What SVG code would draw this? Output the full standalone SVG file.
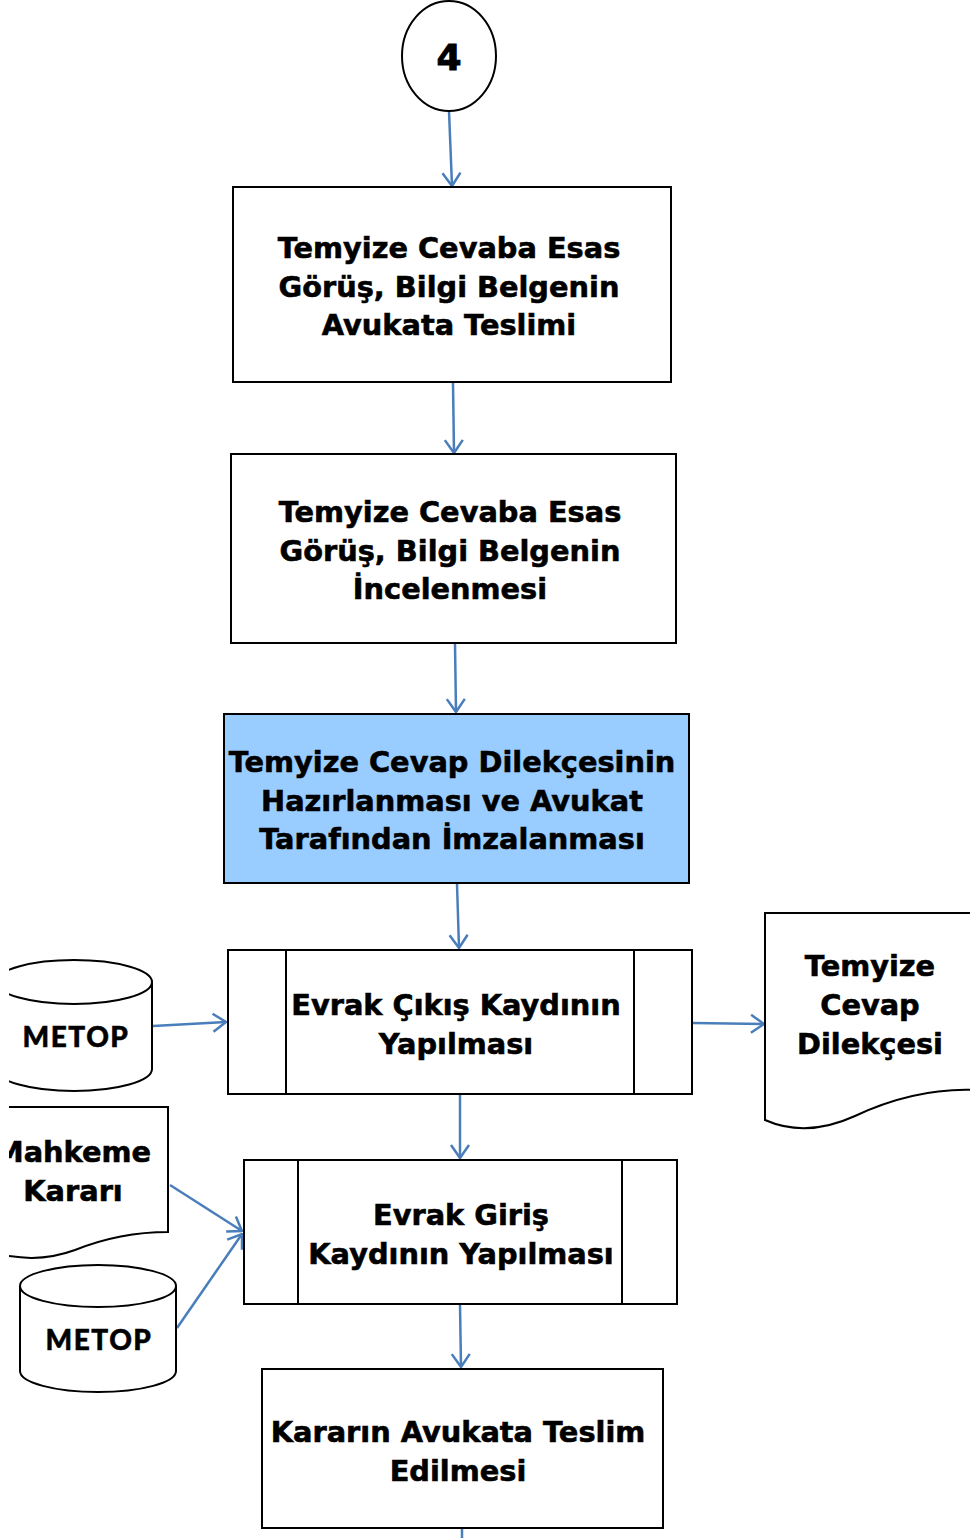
<svg xmlns="http://www.w3.org/2000/svg" width="970" height="1538" viewBox="0 0 970 1538">
<style>
.s{fill:#fff;stroke:#000;stroke-width:2}
.t{font-family:"DejaVu Sans",Verdana,sans-serif;font-weight:bold;font-size:28.8px;fill:#000;stroke:#000;stroke-width:0.6px;text-anchor:middle}
.m{font-family:"Lato","Open Sans",sans-serif;font-weight:900;font-size:28px;fill:#000;stroke:#000;stroke-width:0.5px;text-anchor:middle;letter-spacing:1.5px}
.c{fill:none;stroke:#4A7EBB;stroke-width:2.5;marker-end:url(#a)}
</style>
<defs>
<marker id="a" viewBox="0 0 16 22" refX="15" refY="11" markerWidth="16" markerHeight="22" markerUnits="userSpaceOnUse" orient="auto">
<path d="M2,2 L15,11 L2,20" fill="none" stroke="#4A7EBB" stroke-width="2.5"/>
</marker>
<clipPath id="cl"><rect x="9" y="0" width="970" height="1538"/></clipPath>
</defs>
<rect width="970" height="1538" fill="#fff"/>
<g id="connectors">
<line class="c" x1="449" y1="111" x2="452" y2="186"/>
<line class="c" x1="453" y1="383" x2="454" y2="453"/>
<line class="c" x1="455" y1="644" x2="456" y2="712"/>
<line class="c" x1="457" y1="884" x2="459" y2="948"/>
<line class="c" x1="153" y1="1026" x2="226" y2="1022"/>
<line class="c" x1="693" y1="1023" x2="764" y2="1024"/>
<line class="c" x1="460" y1="1095" x2="460" y2="1158"/>
<line class="c" x1="170" y1="1185" x2="242" y2="1231"/>
<line class="c" x1="177" y1="1328" x2="242" y2="1234"/>
<line class="c" x1="460" y1="1305" x2="461" y2="1367"/>
<line x1="462" y1="1529" x2="462" y2="1538" stroke="#4A7EBB" stroke-width="2.5"/>
</g>
<g id="n4">
<ellipse class="s" cx="449" cy="56" rx="47" ry="55"/>
<text class="t" x="449" y="70" style="font-size:36px;stroke-width:1px">4</text>
</g>
<g id="box1">
<rect class="s" x="233" y="187" width="438" height="195"/>
<text class="t" x="449" y="258">Temyize Cevaba Esas</text>
<text class="t" x="449" y="297">Görüş, Bilgi Belgenin</text>
<text class="t" x="449" y="335">Avukata Teslimi</text>
</g>
<g id="box2">
<rect class="s" x="231" y="454" width="445" height="189"/>
<text class="t" x="450" y="522">Temyize Cevaba Esas</text>
<text class="t" x="450" y="561">Görüş, Bilgi Belgenin</text>
<text class="t" x="450" y="599">İncelenmesi</text>
</g>
<g id="box3">
<rect x="224" y="714" width="465" height="169" fill="#99CCFF" stroke="#000" stroke-width="2"/>
<text class="t" x="452" y="772">Temyize Cevap Dilekçesinin</text>
<text class="t" x="452" y="811">Hazırlanması ve Avukat</text>
<text class="t" x="452" y="849">Tarafından İmzalanması</text>
</g>
<g id="box4">
<rect class="s" x="228" y="950" width="464" height="144"/>
<line x1="286" y1="950" x2="286" y2="1094" stroke="#000" stroke-width="2"/>
<line x1="634" y1="950" x2="634" y2="1094" stroke="#000" stroke-width="2"/>
<text class="t" x="456" y="1015">Evrak Çıkış Kaydının</text>
<text class="t" x="456" y="1054">Yapılması</text>
</g>
<g id="metop1" clip-path="url(#cl)">
<path class="s" d="M-4,982 V1069 A78,22 0 0 0 152,1069 V982"/>
<ellipse class="s" cx="74" cy="982" rx="78" ry="22"/>
<text class="m" x="76" y="1047">METOP</text>
</g>
<g id="doc1">
<path class="s" d="M765,913 H975 V1090 C925,1088 885,1102 855,1116 C820,1132 790,1131 765,1120 Z"/>
<text class="t" x="870" y="976">Temyize</text>
<text class="t" x="870" y="1015">Cevap</text>
<text class="t" x="870" y="1054">Dilekçesi</text>
</g>
<g id="box5">
<rect class="s" x="244" y="1160" width="433" height="144"/>
<line x1="298" y1="1160" x2="298" y2="1304" stroke="#000" stroke-width="2"/>
<line x1="622" y1="1160" x2="622" y2="1304" stroke="#000" stroke-width="2"/>
<text class="t" x="461" y="1225">Evrak Giriş</text>
<text class="t" x="461" y="1264">Kaydının Yapılması</text>
</g>
<g id="doc2" clip-path="url(#cl)">
<path class="s" d="M-22,1107 H168 V1232 C130,1232 100,1240 75,1250 C45,1261 20,1260 -22,1250 Z"/>
<text class="t" x="73" y="1162">Mahkeme</text>
<text class="t" x="73" y="1201">Kararı</text>
</g>
<g id="metop2">
<path class="s" d="M20,1286 V1371 A78,21 0 0 0 176,1371 V1286"/>
<ellipse class="s" cx="98" cy="1286" rx="78" ry="21"/>
<text class="m" x="99" y="1350">METOP</text>
</g>
<g id="box6">
<rect class="s" x="262" y="1369" width="401" height="159"/>
<text class="t" x="458" y="1442">Kararın Avukata Teslim</text>
<text class="t" x="458" y="1481">Edilmesi</text>
</g>
</svg>
